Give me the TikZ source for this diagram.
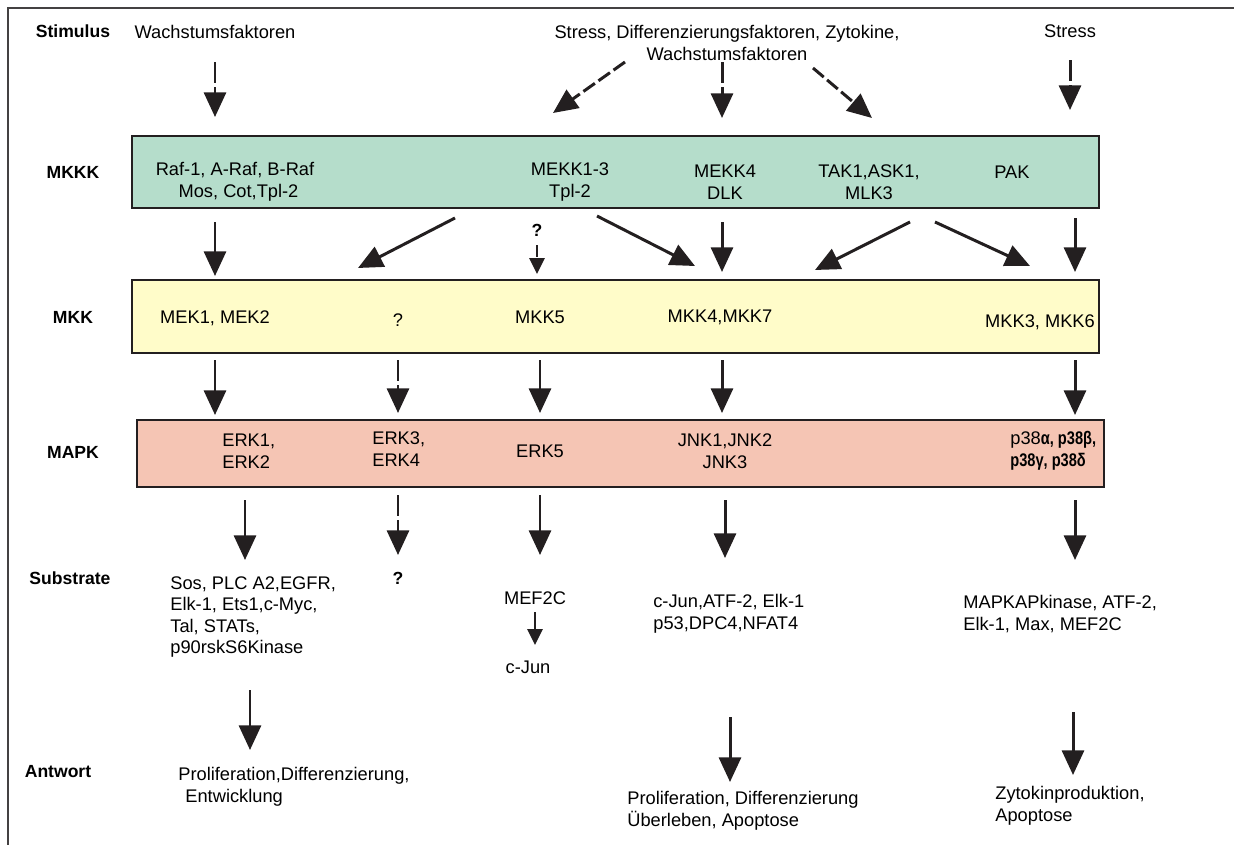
\documentclass[tikz,border=0pt]{standalone}
\usepackage{fontspec}
\setmainfont{Liberation Sans}
\newfontfamily\heavyfont[FakeStretch=0.8]{Liberation Sans}
\usetikzlibrary{arrows.meta}
\definecolor{kkkgreen}{RGB}{181,221,203}
\definecolor{kkyellow}{RGB}{255,252,201}
\definecolor{mapksalmon}{RGB}{245,197,180}
\definecolor{edgegrey}{RGB}{35,31,32}
\tikzset{
    frame/.style = {line width=0.8pt,edgegrey!85},
    lvlbox/.style = {line width=0.7pt,draw=edgegrey},
    rowlbl/.style = {font=\bfseries,inner sep=0},
    txt/.style = {align=center,inner sep=0},
    ltxt/.style = {align=left,inner sep=0,anchor=west},
    sig/.style = {line width=1.7pt,edgegrey,-{Triangle[length=14pt,width=12.5pt]}},
    sigd/.style = {sig,dash pattern=on 8pt off 2.5pt},
    sigdv/.style = {sig,dash pattern=on 12pt off 2.5pt},
    sigsmall/.style = {line width=1.4pt,edgegrey,-{Triangle[length=9pt,width=8.5pt]}},
    sigsmalld/.style = {sigsmall,dash pattern=on 7pt off 2pt}
}

\begin{document}
\begin{tikzpicture}[x=0.02cm,y=-0.02cm,font=\fontsize{10.4}{12.3}\selectfont]
        \useasboundingbox (0,0) rectangle (1234,845);
        % Frame
        \draw[frame] (8,845) -- (8,8) -- (1234,8);
        % Level boxes
        \draw[lvlbox,fill=kkkgreen] (132,136) rectangle (1099,208);
        \draw[lvlbox,fill=kkyellow] (132,280) rectangle (1099,353);
        \draw[lvlbox,fill=mapksalmon] (137,420) rectangle (1104,487);
        % Row labels
        \path (73,31) node[rowlbl] (lstim) {Stimulus}
            (73,172) node[rowlbl] (lmkkk) {MKKK}
            (73,317) node[rowlbl] (lmkk) {MKK}
            (73,452) node[rowlbl] (lmapk) {MAPK}
            (70,578) node[rowlbl] (lsub) {Substrate}
            (58,772) node[rowlbl] (lant) {Antwort}
        ;
        % Stimuli
        \path (215,32) node[txt] (gf) {Wachstumsfaktoren}
            (727,43) node[txt] (sdz) {Stress, Differenzierungsfaktoren, Zytokine,\\Wachstumsfaktoren}
            (1070,31) node[txt] (str) {Stress}
        ;
        % MKKK
        \path (235,182) node[txt] (raf) {Raf-1, A-Raf, B-Raf\\\hspace{4pt}Mos, Cot,Tpl-2}
            (570,182) node[txt] (mekk13) {MEKK1-3\\Tpl-2}
            (725,182) node[txt] (mekk4) {MEKK4\\DLK}
            (869,182) node[txt] (tak) {TAK1,ASK1,\\MLK3}
            (1012,172) node[txt] (pak) {PAK}
        ;
        % MKK
        \path (215,318) node[txt] (mek) {MEK1, MEK2}
            (398,320) node[txt] (mkkq) {?}
            (540,317) node[txt] (mkk5) {MKK5}
            (720,317) node[txt] (mkk47) {MKK4,MKK7}
            (1040,322) node[txt] (mkk36) {MKK3, MKK6}
        ;
        % MAPK
        \path (222,451) node[ltxt] (erk12) {ERK1,\\ERK2}
            (372,449) node[ltxt] (erk34) {ERK3,\\ERK4}
            (540,451) node[txt] (erk5) {ERK5}
            (725,451) node[txt] (jnk) {JNK1,JNK2\\JNK3}
            (1010,451) node[ltxt] (p38) {p38{\heavyfont\bfseries α, p38β,}\\{\heavyfont\bfseries p38γ, p38δ}}
        ;
        % Substrates
        \path (537,230) node[rowlbl] (qmekk) {?}
            (398,578) node[rowlbl] (qerk) {?}
            (170,617) node[ltxt] (suberk) {Sos, PLC A2,EGFR,\\Elk-1, Ets1,c-Myc,\\Tal, STATs,\\p90rskS6Kinase}
            (535,598) node[txt] (mef) {MEF2C}
            (528,667) node[txt] (cjun) {c-Jun}
            (653,614) node[ltxt] (subjnk) {c-Jun,ATF-2, Elk-1\\p53,DPC4,NFAT4}
            (963,614) node[ltxt] (subp38) {MAPKAPkinase, ATF-2,\\Elk-1, Max, MEF2C}
        ;
        % Responses
        \path (178,787) node[ltxt] (anterk) {Proliferation,Differenzierung,\\\hspace{4pt}Entwicklung}
            (627,811) node[ltxt] (antjnk) {Proliferation, Differenzierung\\Überleben, Apoptose}
            (995,806) node[ltxt] (antp38) {Zytokinproduktion,\\Apoptose}
        ;
        % Arrow ends
        \path (215,62) coordinate (s1) (215,117) coordinate (e1)
            (625,62) coordinate (s2) (553,113) coordinate (e2)
            (722,62) coordinate (s3) (722,118) coordinate (e3)
            (813,68) coordinate (s4) (872,118) coordinate (e4)
            (1070,60) coordinate (s5) (1070,110) coordinate (e5)
            (215,222) coordinate (s6) (215,276) coordinate (e6)
            (455,218) coordinate (s7) (358,268) coordinate (e7)
            (537,245) coordinate (s8) (537,274) coordinate (e8)
            (597,216) coordinate (s9) (695,266) coordinate (e9)
            (722,222) coordinate (s10) (722,272) coordinate (e10)
            (910,222) coordinate (s11) (815,270) coordinate (e11)
            (935,222) coordinate (s12) (1030,266) coordinate (e12)
            (1075,218) coordinate (s13) (1075,272) coordinate (e13)
            (215,360) coordinate (s14) (215,415) coordinate (e14)
            (398,360) coordinate (s15) (398,413) coordinate (e15)
            (540,360) coordinate (s16) (540,413) coordinate (e16)
            (722,360) coordinate (s17) (722,413) coordinate (e17)
            (1075,360) coordinate (s18) (1075,415) coordinate (e18)
            (245,500) coordinate (s19) (245,560) coordinate (e19)
            (398,495) coordinate (s20) (398,555) coordinate (e20)
            (540,495) coordinate (s21) (540,555) coordinate (e21)
            (725,500) coordinate (s22) (725,558) coordinate (e22)
            (1075,500) coordinate (s23) (1075,560) coordinate (e23)
            (535,612) coordinate (s24) (535,645) coordinate (e24)
            (250,690) coordinate (s25) (250,750) coordinate (e25)
            (730,717) coordinate (s26) (730,782) coordinate (e26)
            (1073,712) coordinate (s27) (1073,775) coordinate (e27)
        ;
        % Activation
        \foreach \src/\dest in {s6/e6,s7/e7,s9/e9,s10/e10,s11/e11,s12/e12,s13/e13,
            s14/e14,s16/e16,s17/e17,s18/e18,s19/e19,s21/e21,s22/e22,s23/e23,
            s25/e25,s26/e26,s27/e27}
            \draw[sig] (\src) -- (\dest);
        % Stimulation and uncertain steps
        \foreach \src/\dest in {s2/e2,s4/e4}
            \draw[sigd] (\src) -- (\dest);
        \foreach \src/\dest in {s1/e1,s3/e3,s5/e5,s15/e15,s20/e20}
            \draw[sigdv] (\src) -- (\dest);
        \draw[sigsmalld] (s8) -- (e8);
        \draw[sigsmall] (s24) -- (e24);
    \end{tikzpicture}
\end{document}
